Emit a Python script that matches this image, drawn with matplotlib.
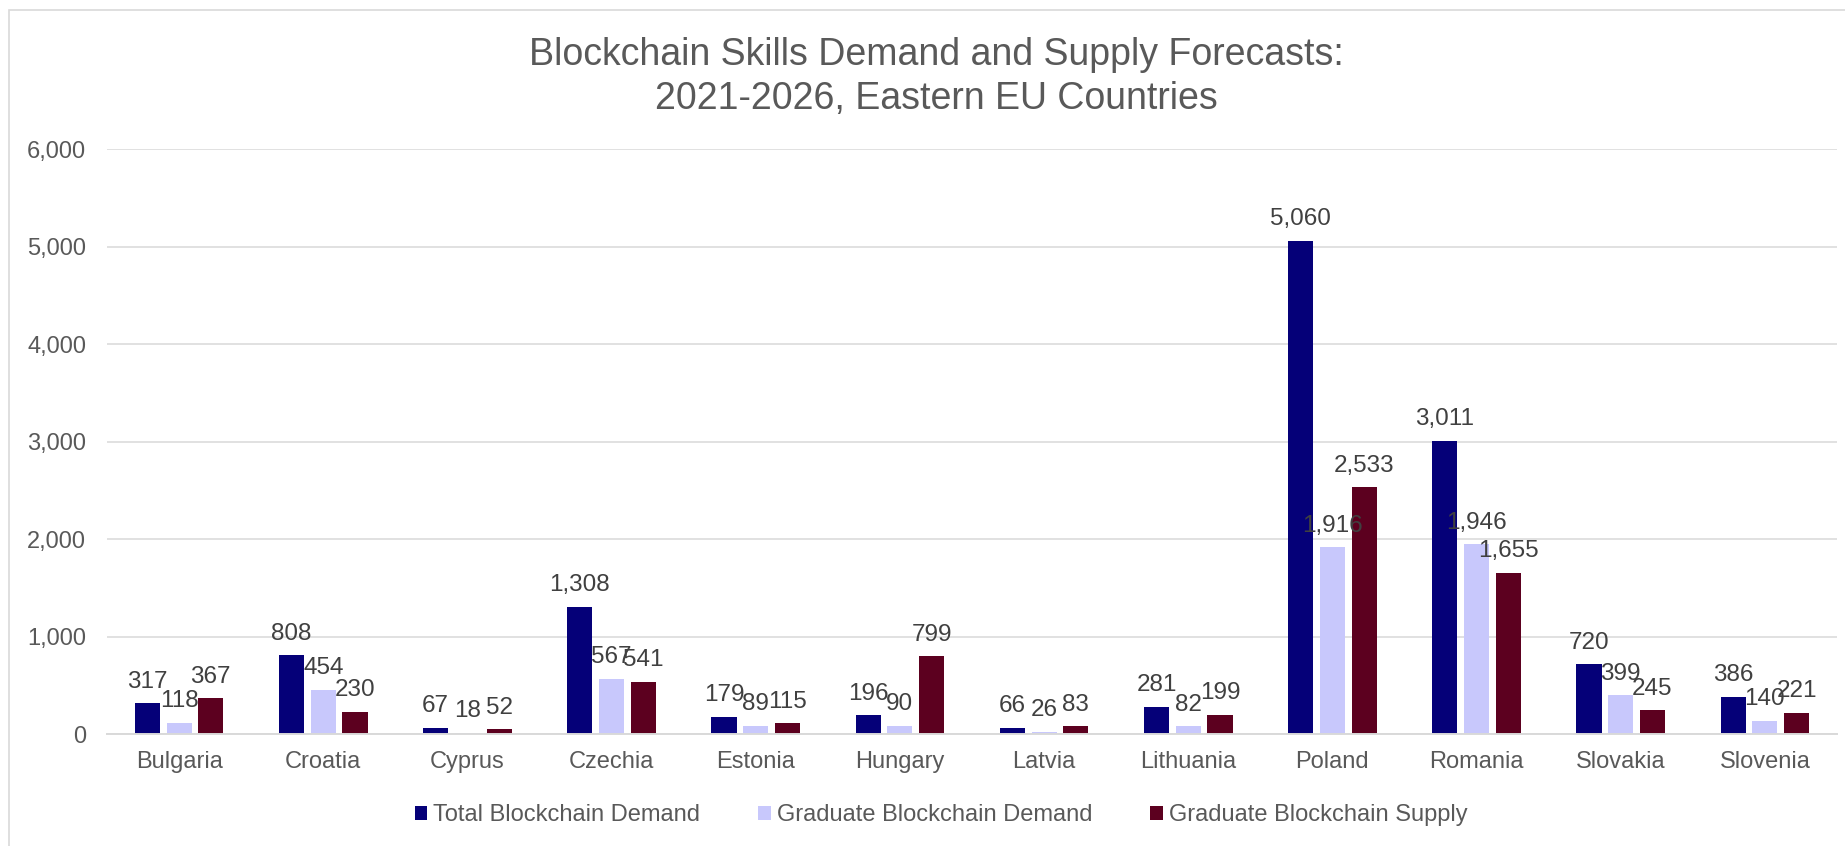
import matplotlib
matplotlib.use("Agg")
import matplotlib.pyplot as plt
from matplotlib.patches import Rectangle, Patch
import numpy as np

countries = ["Bulgaria", "Croatia", "Cyprus", "Czechia", "Estonia", "Hungary",
             "Latvia", "Lithuania", "Poland", "Romania", "Slovakia", "Slovenia"]
total_demand = [317, 808, 67, 1308, 179, 196, 66, 281, 5060, 3011, 720, 386]
graduate_demand = [118, 454, 18, 567, 89, 90, 26, 82, 1916, 1946, 399, 140]
graduate_supply = [367, 230, 52, 541, 115, 799, 83, 199, 2533, 1655, 245, 221]

series_names = ["Total Blockchain Demand", "Graduate Blockchain Demand",
                "Graduate Blockchain Supply"]
series_colors = ["#050078", "#c8c8fc", "#5c001f"]

W, H = 1845, 846
plt.rcParams["font.family"] = ["Liberation Sans", "DejaVu Sans"]

fig = plt.figure(figsize=(W / 100, H / 100), dpi=100)
ax = fig.add_axes([107 / W, (H - 734.3) / H, (1837 - 107) / W, (734.3 - 149) / H])

x = np.arange(len(countries))
bar_w = 0.174
step = 0.22
for i, (vals, name, col) in enumerate(zip([total_demand, graduate_demand, graduate_supply],
                                          series_names, series_colors)):
    bars = ax.bar(x + (i - 1) * step, vals, width=bar_w, color=col, label=name, zorder=2)
    for b, v in zip(bars, vals):
        ax.annotate(f"{v:,}", (b.get_x() + b.get_width() / 2, v), xytext=(0, 7.6),
                    textcoords="offset points", ha="center", va="bottom",
                    fontsize=17.5, color="#404040", zorder=3)

ax.set_xlim(-0.5, len(countries) - 0.5)
ax.set_ylim(0, 6000)
ax.set_yticks(range(0, 6001, 1000))
ax.set_yticklabels([f"{t:,}" for t in range(0, 6001, 1000)])
ax.set_xticks(x)
ax.set_xticklabels(countries)
ax.tick_params(axis="y", length=0, pad=15, labelsize=17, labelcolor="#595959")
ax.tick_params(axis="x", length=0, pad=12, labelsize=17, labelcolor="#595959")
ax.grid(axis="y", color="#d9d9d9", linewidth=1.1, zorder=0)
for s in ["top", "right", "left"]:
    ax.spines[s].set_visible(False)
ax.spines["bottom"].set_color("#d9d9d9")
ax.spines["bottom"].set_linewidth(1.4)

# chart title, two lines
fig.text(936 / W, 1 - 65 / H, "Blockchain Skills Demand and Supply Forecasts:",
         ha="center", va="baseline", fontsize=27, color="#595959")
fig.text(936 / W, 1 - 109 / H, "2021-2026, Eastern EU Countries",
         ha="center", va="baseline", fontsize=27, color="#595959")

handles = [Patch(facecolor=c, label=n) for c, n in zip(series_colors, series_names)]
fig.legend(handles=handles, loc="center", bbox_to_anchor=(941 / W, 1 - 815 / H), ncol=3,
           frameon=False, fontsize=17, handlelength=0.54, handleheight=0.54,
           handletextpad=0.25, columnspacing=2.45, labelcolor="#595959")

# outer chart border
fig.patches.append(Rectangle((9 / W, -0.01), 1.02, 1 - 10 / H + 0.01, transform=fig.transFigure,
                             fill=False, edgecolor="#d9d9d9", linewidth=1.2))

fig.savefig("out.png", dpi=100)
